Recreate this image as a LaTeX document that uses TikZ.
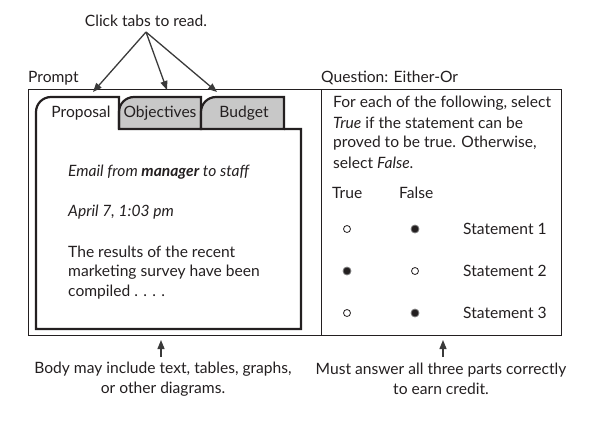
\documentclass[tikz,border=0pt]{standalone}
\usepackage{fontspec}
\setmainfont{Lato}
\usetikzlibrary{arrows.meta}
\definecolor{ink}{HTML}{231F20}
\definecolor{tabgray}{HTML}{C8C8C8}
\definecolor{arrowgray}{HTML}{3A3A3A}
\begin{document}
\begin{tikzpicture}[x=1pt,y=-1pt,
  txt/.style={inner sep=0pt,text=ink,font=\fontsize{15.6}{20}\selectfont},
  ltxt/.style={txt,anchor=west},
  thin box/.style={draw=ink,line width=0.9pt},
  tabline/.style={draw=ink,line width=2.2pt,line join=miter},
  pointer/.style={draw=arrowgray,line width=1.3pt,-{Triangle[length=9pt,width=7pt]}},
  radio/.style={circle,draw=ink,line width=0.8pt,minimum size=7pt,inner sep=0pt},
  chosen/.style={radio,fill=ink,draw=gray,minimum size=8pt}]
\useasboundingbox (0,0) rectangle (596,421);

% outer frame and divider
\draw[thin box] (28,89) rectangle (561,335);
\draw[thin box] (321,89) -- (321,335);

% headings
\node[ltxt] (prompt) at (28,78) {Prompt};
\node[ltxt] (question) at (321,78) {Question: Either-Or};

% grey tabs
\filldraw[tabline,fill=tabgray] (119,129) -- (119,112) .. controls (119,103.7) and (125.7,97) .. (134,97) -- (201,97) -- (201,129) -- cycle;
\filldraw[tabline,fill=tabgray] (201,129) -- (201,112) .. controls (201,103.7) and (207.7,97) .. (216,97) -- (284,97) -- (284,129) -- cycle;
% active tab + body
\draw[tabline] (284,129) -- (301,129) -- (301,329) -- (36,329) -- (36,112) .. controls (36,103.7) and (42.7,97) .. (51,97) -- (119,97) -- (119,129);

\node[txt] (tabA) at (81,113) {Proposal};
\node[txt] (tabB) at (160,113) {Objectives};
\node[txt] (tabC) at (244,113) {Budget};

% body text
\node[ltxt] (email) at (68,172) {\itshape Email from \bfseries manager\mdseries\ to staff};
\node[ltxt] (date) at (68,212) {\itshape April 7, 1:03 pm};
\node[ltxt] (body1) at (68,252) {The results of the recent};
\node[ltxt] (body2) at (68,272) {marketing survey have been};
\node[ltxt] (body3) at (68,292) {compiled . . . .};

% question text
\node[ltxt] (q1) at (333,103) {For each of the following, select};
\node[ltxt] (q2) at (333,123) {\textit{True} if the statement can be};
\node[ltxt] (q3) at (333,143) {proved to be true. Otherwise,};
\node[ltxt] (q4) at (333,163) {select \textit{False}.};
\node[ltxt] (htrue) at (332,193) {True};
\node[ltxt] (hfalse) at (399,193) {False};

\node[radio] (r1t) at (347,229) {};
\node[chosen] (r1f) at (415,229) {};
\node[ltxt] (s1) at (463,229) {Statement 1};
\node[chosen] (r2t) at (347,271) {};
\node[radio] (r2f) at (415,271) {};
\node[ltxt] (s2) at (463,271) {Statement 2};
\node[radio] (r3t) at (347,313) {};
\node[chosen] (r3f) at (415,313) {};
\node[ltxt] (s3) at (463,313) {Statement 3};

% top callout
\node[txt] (click) at (146,21) {Click tabs to read.};
\coordinate (clickpt) at (146,32);
\coordinate (tgtA) at (93,92);
\coordinate (tgtB) at (167,90);
\coordinate (tgtC) at (217,92);
\draw[pointer] (clickpt) -- (tgtA);
\draw[pointer] (clickpt) -- (tgtB);
\draw[pointer] (clickpt) -- (tgtC);

% bottom callouts
\node[txt,align=center] (note1) at (163,379) {Body may include text, tables, graphs,\\or other diagrams.};
\node[txt,align=center] (note2) at (441,379) {Must answer all three parts correctly\\to earn credit.};
\coordinate (n1s) at (161,357);
\coordinate (n1e) at (161,340);
\coordinate (n2s) at (443,357);
\coordinate (n2e) at (443,340);
\draw[pointer] (n1s) -- (n1e);
\draw[pointer] (n2s) -- (n2e);
\end{tikzpicture}
\end{document}
